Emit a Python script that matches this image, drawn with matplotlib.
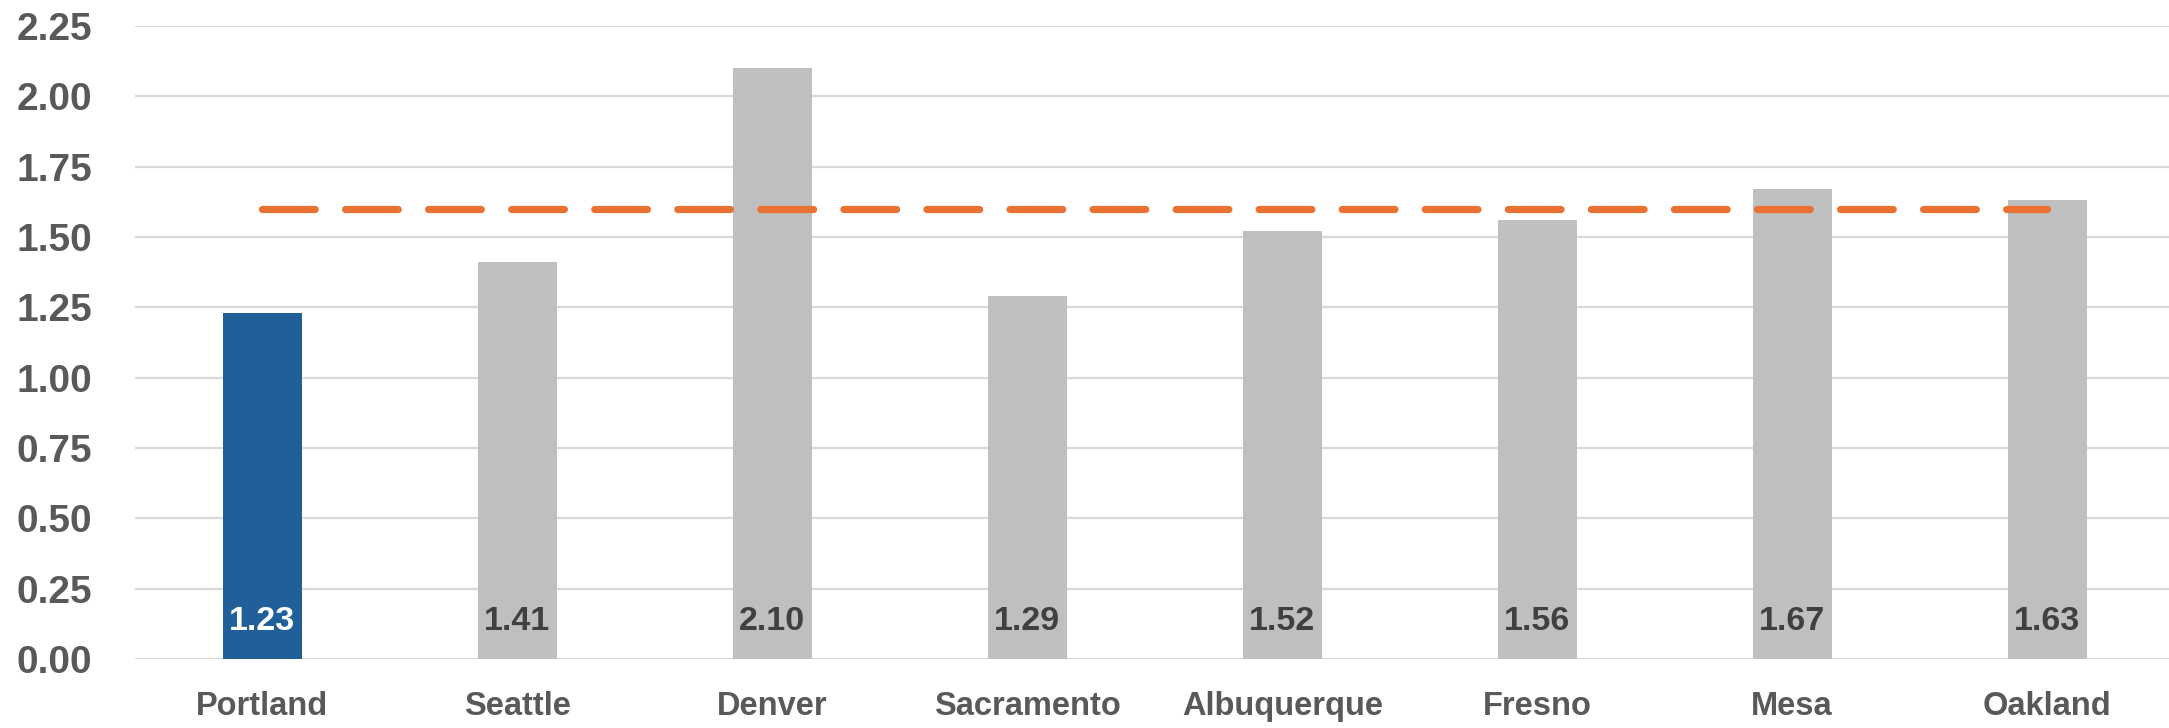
import matplotlib.pyplot as plt
import numpy as np

plt.rcParams['font.family'] = ['Liberation Sans', 'DejaVu Sans']
plt.rcParams['font.weight'] = 'bold'

cities = ['Portland', 'Seattle', 'Denver', 'Sacramento', 'Albuquerque',
          'Fresno', 'Mesa', 'Oakland']
values = [1.23, 1.41, 2.10, 1.29, 1.52, 1.56, 1.67, 1.63]
average = [1.6] * len(cities)
yticks = [0.0, 0.25, 0.5, 0.75, 1.0, 1.25, 1.5, 1.75, 2.0, 2.25]

fig = plt.figure(figsize=(21.69, 7.28), dpi=100)
ax = fig.add_axes([135 / 2169, 69 / 728, 2039.5 / 2169, 633 / 728])

x = np.arange(len(cities))
colors = ['#215F9A'] + ['#BFBFBF'] * (len(cities) - 1)
ax.bar(x, values, width=0.31, color=colors, zorder=2)

ax.plot(x, average, color='#E97132', linewidth=5.2, dashes=(7.3, 4.2),
        dash_capstyle='round', zorder=3)

for i, v in enumerate(values):
    ax.annotate(f'{v:.2f}', xy=(i, 0), xytext=(0, 27), textcoords='offset points',
                ha='center', va='center', fontsize=24.5, fontweight='bold',
                color='white' if i == 0 else '#404040', zorder=4)

ax.set_xlim(-0.5, len(cities) - 0.5)
ax.set_ylim(0, 2.25)
ax.set_yticks(yticks)
ax.set_yticklabels([f'{t:.2f}' for t in yticks])
ax.set_xticks(x)
ax.set_xticklabels(cities)

ax.grid(axis='y', color='#D9D9D9', linewidth=1.6, zorder=0)
ax.set_axisbelow(True)
for s in ax.spines.values():
    s.set_visible(False)

ax.tick_params(axis='y', length=0, pad=31, labelsize=28, labelcolor='#595959')
ax.tick_params(axis='x', length=0, pad=23, labelsize=23.5, labelcolor='#595959')
for lab in ax.get_xticklabels() + ax.get_yticklabels():
    lab.set_fontweight('bold')

fig.savefig('out.png', dpi=100)
